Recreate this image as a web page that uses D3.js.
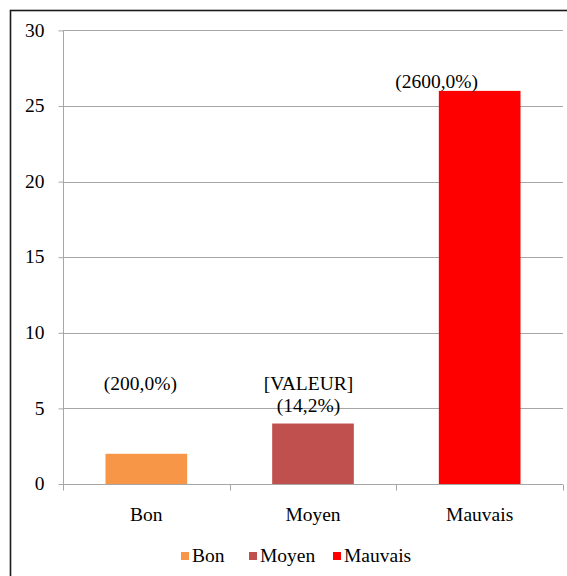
<!DOCTYPE html>
<html>
<head>
<meta charset="utf-8">
<script src="https://cdn.jsdelivr.net/npm/d3@7"></script>
<style>
  html, body { margin: 0; padding: 0; background: #fff; }
  #chart { position: relative; width: 567px; height: 576px; overflow: hidden; }
  #chart svg { position: absolute; left: 0; top: 0; display: block; }
  .lab {
    position: absolute; white-space: nowrap; line-height: 1;
    font-family: "Liberation Serif", "Times New Roman", serif;
    font-size: 19.5px; color: #000;
  }
</style>
</head>
<body>
<div id="chart"></div>
<script>
// Categories and their counts
const categories = ["Bon", "Moyen", "Mauvais"];
const values = [2, 4, 26];
const colors = ["#F79646", "#C0504D", "#FF0000"];
// Data label lines shown above each bar
const labelLines = [["(200,0%)"], ["[VALEUR]", "(14,2%)"], ["(2600,0%)"]];
// Y-axis ticks
const yTicks = [0, 5, 10, 15, 20, 25, 30];

const W = 567, H = 576;
const FS = 19.5;
const ASC = 0.8375 * FS; // distance from box top to baseline at line-height 1
const margin = { left: 63, right: 4, top: 30.4, bottom: 92 };
const plotW = W - margin.left - margin.right;
const plotH = H - margin.top - margin.bottom;

const root = d3.select("#chart");
const svg = root.append("svg").attr("width", W).attr("height", H);

// Text placed at a baseline, anchored start / middle / end
function label(xp, baseline, str, anchor) {
  const shift = anchor === "middle" ? "-50%" : anchor === "end" ? "-100%" : "0";
  return root.append("div").attr("class", "lab")
    .style("left", xp + "px").style("top", (baseline - ASC) + "px")
    .style("transform", `translateX(${shift})`)
    .text(str);
}

// Chart frame
svg.append("rect")
  .attr("x", 10.5).attr("y", 10.5)
  .attr("width", W + 10).attr("height", H + 10)
  .attr("fill", "#fff").attr("stroke", "#1a1a1a").attr("stroke-width", 1.6);

const x = d3.scaleBand().domain(categories).range([margin.left, margin.left + plotW]);
const y = d3.scaleLinear().domain([0, 30]).range([margin.top + plotH, margin.top]);

// Horizontal gridlines
svg.append("g").selectAll("line").data(yTicks.filter(d => d > 0)).join("line")
  .attr("x1", margin.left).attr("x2", margin.left + plotW)
  .attr("y1", d => Math.round(y(d)) + 0.5).attr("y2", d => Math.round(y(d)) + 0.5)
  .attr("stroke", "#a6a6a6").attr("stroke-width", 1);

// Y axis (line and ticks from d3.axisLeft, labels as text boxes)
const yAxis = svg.append("g").attr("transform", `translate(${margin.left + 0.5},0)`)
  .call(d3.axisLeft(y).tickValues(yTicks).tickSize(5).tickFormat(""));
yAxis.select(".domain").attr("stroke", "#a6a6a6")
  .attr("d", `M0,${y(0)}V${y(30)}`);
yAxis.selectAll(".tick line").attr("stroke", "#a6a6a6");
yTicks.forEach(t => label(margin.left - 18.5, y(t) + 0.34 * FS, String(t), "end"));

// X axis with tick marks at category boundaries
const baseY = Math.round(y(0)) + 0.5;
svg.append("line").attr("x1", margin.left).attr("x2", margin.left + plotW)
  .attr("y1", baseY).attr("y2", baseY).attr("stroke", "#a6a6a6");
const boundaries = [margin.left].concat(categories.map(c => x(c) + x.bandwidth()));
svg.selectAll("line.tk").data(boundaries).join("line").attr("class", "tk")
  .attr("x1", d => Math.round(d) + 0.5).attr("x2", d => Math.round(d) + 0.5)
  .attr("y1", baseY).attr("y2", baseY + 6).attr("stroke", "#a6a6a6");
categories.forEach(c => label(x(c) + x.bandwidth() / 2, y(0) + 37, c, "middle"));

// Bars
const barW = x.bandwidth() * 0.49;
svg.selectAll("rect.bar").data(categories).join("rect").attr("class", "bar")
  .attr("x", d => x(d) + x.bandwidth() / 2 - barW / 2)
  .attr("y", (d, i) => y(values[i]))
  .attr("width", barW)
  .attr("height", (d, i) => y(0) - y(values[i]))
  .attr("fill", (d, i) => colors[i]);

// Data labels: anchor height (in axis units) and horizontal shift of each label block
const labelAnchor = [6.22, 6.22, 26.19];
const labelShift = [-6, -4.5, -43];
categories.forEach((c, i) => {
  const cx = x(c) + x.bandwidth() / 2 + labelShift[i];
  labelLines[i].forEach((line, j) => label(cx, y(labelAnchor[i]) + j * 22, line, "middle"));
});

// Legend
const legendX = [181, 249, 333];
const legendBase = 562;
svg.append("g").selectAll("rect").data(categories).join("rect")
  .attr("x", (d, i) => legendX[i]).attr("y", legendBase - 10)
  .attr("width", 8).attr("height", 8)
  .attr("fill", (d, i) => colors[i]);
categories.forEach((c, i) => label(legendX[i] + 11, legendBase, c, "start"));
</script>
</body>
</html>
